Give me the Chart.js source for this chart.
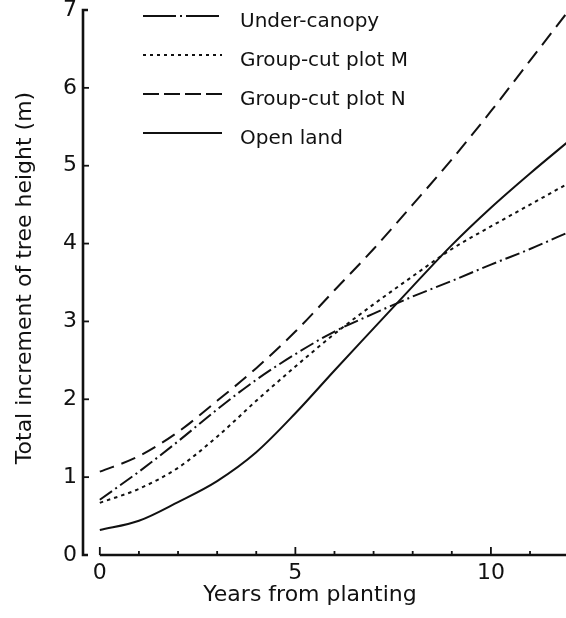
<!DOCTYPE html>
<html>
<head>
<meta charset="utf-8">
<script src="https://cdn.jsdelivr.net/npm/chart.js@4/dist/chart.umd.min.js"></script>
<style>
  html, body { margin: 0; padding: 0; background: #fff; }
  canvas { display: block; }
</style>
</head>
<body>
<canvas id="chart" width="566" height="618"></canvas>
<script>
// values (m), one per year after planting
const years = [0, 1, 2, 3, 4, 5, 6, 7, 8, 9, 10, 11, 12];
const underCanopy = [0.71, 1.07, 1.46, 1.87, 2.25, 2.58, 2.87, 3.10, 3.32, 3.52, 3.73, 3.93, 4.15];
const plotM = [0.67, 0.85, 1.12, 1.52, 1.98, 2.42, 2.84, 3.22, 3.58, 3.93, 4.22, 4.50, 4.78];
const plotN = [1.07, 1.27, 1.58, 1.98, 2.40, 2.87, 3.40, 3.93, 4.50, 5.08, 5.70, 6.35, 7.00];
const openLand = [0.32, 0.44, 0.68, 0.95, 1.32, 1.82, 2.37, 2.91, 3.45, 3.98, 4.46, 4.90, 5.32];

const seriesNames = ['Under-canopy', 'Group-cut plot M', 'Group-cut plot N', 'Open land'];
const xTickValues = [0, 1, 2, 3, 4, 5, 6, 7, 8, 9, 10, 11];
const xLabelValues = [0, 5, 10];

const ink = '#111';
const legendDash = [[33, 4, 2, 4], [3, 4], [16, 5], []];

function toPoints(values) {
    return values.map(function(v, i) { return {x: years[i], y: v}; });
}

function lineSet(label, values, dash) {
    return {
        label: label,
        data: toPoints(values),
        borderColor: ink,
        borderWidth: 2,
        borderDash: dash,
        pointRadius: 0,
        fill: false,
        cubicInterpolationMode: 'monotone'
    };
}

// axes, titles and legend drawn the way the printed figure has them
const paperAxes = {
    id: 'paperAxes',
    afterDatasetsDraw(chart) {
        const ctx = chart.ctx;
        const area = chart.chartArea;
        const x = chart.scales.x, y = chart.scales.y;
        const bottom = y.getPixelForValue(0);
        const top = y.getPixelForValue(7);
        const left = area.left;

        ctx.save();
        ctx.strokeStyle = ink;
        ctx.fillStyle = ink;
        ctx.lineCap = 'butt';

        // y axis with hook at the top and foot at the bottom
        ctx.lineWidth = 2.6;
        ctx.beginPath();
        ctx.moveTo(left + 5, top);
        ctx.lineTo(left, top);
        ctx.lineTo(left, bottom);
        ctx.lineTo(left + 5, bottom);
        ctx.stroke();
        ctx.lineWidth = 1.8;
        for (let v = 1; v < 7; v++) {
            const py = y.getPixelForValue(v);
            ctx.beginPath();
            ctx.moveTo(left, py);
            ctx.lineTo(left + 6, py);
            ctx.stroke();
        }

        // x axis starts at year 0
        ctx.lineWidth = 2.6;
        ctx.beginPath();
        ctx.moveTo(x.getPixelForValue(0), bottom);
        ctx.lineTo(area.right, bottom);
        ctx.stroke();
        ctx.lineWidth = 1.8;
        xTickValues.forEach(function(v) {
            const px = x.getPixelForValue(v);
            const len = v % 5 === 0 ? 8 : 4;
            ctx.beginPath();
            ctx.moveTo(px, bottom);
            ctx.lineTo(px, bottom - len);
            ctx.stroke();
        });

        // axis titles
        ctx.font = '22px "DejaVu Sans"';
        ctx.textAlign = 'center';
        ctx.textBaseline = 'alphabetic';
        ctx.fillText('Years from planting', 310, 601);
        ctx.save();
        ctx.translate(31, 278);
        ctx.rotate(-Math.PI / 2);
        ctx.fillText('Total increment of tree height (m)', 0, 0);
        ctx.restore();

        // legend in the top left of the plot
        ctx.font = '20px "DejaVu Sans"';
        ctx.textAlign = 'left';
        chart.data.datasets.forEach(function(ds, i) {
            const ry = 16 + i * 39;
            ctx.lineWidth = 2;
            ctx.setLineDash(legendDash[i]);
            ctx.beginPath();
            ctx.moveTo(143, ry);
            ctx.lineTo(222, ry);
            ctx.stroke();
            ctx.setLineDash([]);
            ctx.fillText(ds.label, 240, ry + 11);
        });
        ctx.restore();
    }
};

const chart = new Chart(document.getElementById('chart'), {
    type: 'line',
    data: {
        datasets: [
            lineSet(seriesNames[0], underCanopy, [15, 4, 2, 4]),
            lineSet(seriesNames[1], plotM, [3.5, 4]),
            lineSet(seriesNames[2], plotN, [15, 8]),
            lineSet(seriesNames[3], openLand, [])
        ]
    },
    options: {
        responsive: false,
        animation: false,
        devicePixelRatio: 1,
        layout: { padding: { top: 10, right: 0, left: 0, bottom: 0 } },
        plugins: {
            legend: { display: false },
            tooltip: { enabled: false }
        },
        scales: {
            x: {
                type: 'linear',
                min: -0.43,
                max: 11.92,
                grid: { display: false, drawTicks: false },
                border: { display: false },
                afterBuildTicks: function(scale) {
                    scale.ticks = xTickValues.map(function(v) { return {value: v}; });
                },
                afterFit: function(scale) {
                    scale.height = 63;
                    scale.paddingLeft = 0;
                    scale.paddingRight = 0;
                },
                ticks: {
                    autoSkip: false,
                    maxRotation: 0,
                    padding: 5,
                    color: ink,
                    font: { family: 'DejaVu Sans', size: 22 },
                    callback: function(v) { return xLabelValues.indexOf(v) >= 0 ? String(v) : ''; }
                }
            },
            y: {
                min: 0,
                max: 7,
                grid: { display: false, drawTicks: false },
                border: { display: false },
                afterFit: function(scale) {
                    scale.width = 83;
                    scale.paddingTop = 0;
                    scale.paddingBottom = 0;
                },
                ticks: {
                    stepSize: 1,
                    padding: 6,
                    color: ink,
                    font: { family: 'DejaVu Sans', size: 22 }
                }
            }
        }
    },
    plugins: [paperAxes]
});
</script>
</body>
</html>
